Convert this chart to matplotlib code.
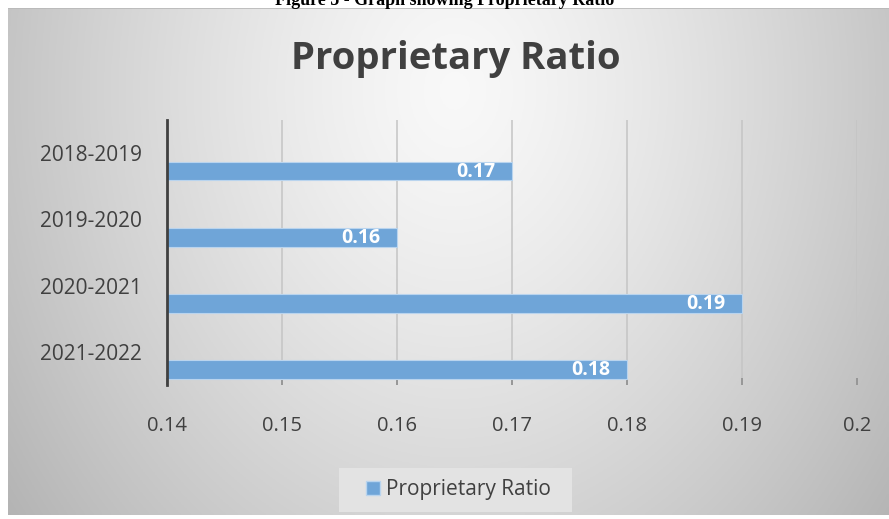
import matplotlib
matplotlib.use("Agg")
import matplotlib.pyplot as plt
import numpy as np
from matplotlib.patches import Patch, Rectangle

# data
categories = ["2018-2019", "2019-2020", "2020-2021", "2021-2022"]
values = [0.17, 0.16, 0.19, 0.18]
value_labels = ["0.17", "0.16", "0.19", "0.18"]
x_ticks = [0.14, 0.15, 0.16, 0.17, 0.18, 0.19, 0.2]
x_tick_labels = ["0.14", "0.15", "0.16", "0.17", "0.18", "0.19", "0.2"]
series_name = "Proprietary Ratio"

W, H = 889, 519
fig = plt.figure(figsize=(W / 100, H / 100), dpi=100, facecolor="white")

# gradient background of the chart box
bg = fig.add_axes([8 / W, 4 / H, 881 / W, 507 / H])
bg.set_zorder(-1)
bg.set_axis_off()
gx, gy = np.meshgrid(np.linspace(8, 889, 300), np.linspace(8, 515, 200))
d = np.sqrt(((gx - 455) / 445) ** 2 + ((gy - 90) / 560) ** 2)
shade = np.clip(0.975 - 0.2 * d ** 1.3, 0, 1)
bg.imshow(np.dstack([shade] * 3), aspect="auto", extent=[0, 1, 0, 1])
bg.plot([0, 1], [1, 1], color="#b8b8b8", lw=1.2)
bg.set_xlim(0, 1)
bg.set_ylim(0, 1)

# caption cut at the top
fig.text(445 / W, 1 - 5 / H, "Figure 5 - Graph showing Proprietary Ratio",
         ha="center", va="baseline", fontsize=13, fontweight="bold",
         family="Liberation Serif", color="black")

fig.text(456 / W, 1 - 69 / H, "Proprietary Ratio", ha="center", va="baseline",
         fontsize=27.5, fontweight="bold", family="Open Sans", color="#404040")

ax = fig.add_axes([167 / W, 1 - 385 / H, 690 / W, 265 / H])
ax.set_zorder(1)
ax.patch.set_alpha(0)

ypos = np.arange(len(categories))
bar_color = "#6fa5d8"
ax.barh(ypos + 0.27, values, left=0, height=0.28, color=bar_color,
        edgecolor="#b9d4ee", linewidth=0.8, zorder=3)

for y, v, lab in zip(ypos, values, value_labels):
    ax.annotate(lab, (v, y + 0.27), xytext=(-12, -0.5), textcoords="offset points",
                ha="right", va="center", color="white", fontsize=14,
                fontweight="bold", family="Open Sans", zorder=4)

ax.set_xlim(0.14, 0.2)
ax.set_ylim(len(categories) - 0.5, -0.5)
ax.set_xticks(x_ticks)
ax.set_xticklabels(x_tick_labels)
ax.set_yticks(ypos)
ax.set_yticklabels(categories)

ax.grid(axis="x", color="#c4c4c4", linewidth=1.1, zorder=1)
ax.tick_params(axis="x", direction="in", length=5, width=1.1, color="#8a8a8a",
               pad=22, labelsize=14.5, labelcolor="#404040")
ax.tick_params(axis="y", length=0, pad=18, labelsize=15, labelcolor="#404040")
for t in ax.get_xticklabels() + ax.get_yticklabels():
    t.set_family("Open Sans")

for s in ["top", "right", "bottom"]:
    ax.spines[s].set_visible(False)
ax.spines["left"].set_color("#404040")
ax.spines["left"].set_linewidth(2)
ax.spines["left"].set_zorder(5)

# legend box
fig.add_artist(Rectangle((339 / W, 1 - 512 / H), 233 / W, 44 / H,
                         transform=fig.transFigure, facecolor="#e3e3e3",
                         edgecolor="none", zorder=0.5))
leg = ax.legend([Patch(facecolor=bar_color, edgecolor="#b9d4ee")], [series_name],
                loc="center left", bbox_to_anchor=(366 / W, 1 - 490 / H),
                bbox_transform=fig.transFigure, frameon=False,
                borderpad=0, borderaxespad=0,
                handlelength=0.65, handleheight=0.65, handletextpad=0.3,
                prop={"family": "Open Sans", "size": 15})
for t in leg.get_texts():
    t.set_color("#404040")

fig.savefig("out.png", dpi=100, facecolor="white")
